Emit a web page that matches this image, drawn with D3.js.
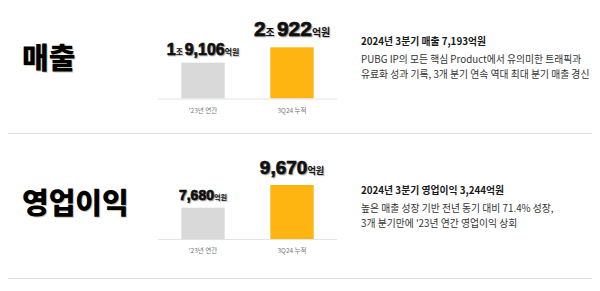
<!DOCTYPE html>
<html>
<head>
<meta charset="utf-8">
<script src="https://cdn.jsdelivr.net/npm/d3@7"></script>
<style>
  body { margin: 0; background: #fff; }
  svg { display: block; }
  .kr { font-family: 'Noto Sans CJK KR', 'Noto Sans', sans-serif; }
  .num { font-family: 'Liberation Sans', Arial, sans-serif; font-weight: 700; }
  .shadow { text-shadow: 1px 1px 1px rgba(0, 0, 0, 0.3); }
</style>
</head>
<body>
<div id="chart"></div>
<script>
// values in 억원
const categories = ["'23년 연간", '3Q24 누적']
const revenue = [19106, 20922]
const opProfit = [7680, 9670]
const titles = ['매출', '영업이익']
const headlines = ['2024년 3분기 매출 7,193억원', '2024년 3분기 영업이익 3,244억원']
const notes = [
  ['PUBG IP의 모든 핵심 Product에서 유의미한 트래픽과', '유료화 성과 기록, 3개 분기 연속 역대 최대 분기 매출 경신'],
  ['높은 매출 성장 기반 전년 동기 대비 71.4% 성장,', "3개 분기만에 '23년 연간 영업이익 상회"]
]

const width = 600
const height = 291
const colors = ['#d9d9d9', '#ffb511']

// layout for each block (top = revenue, bottom = operating profit)
const panels = [
  { values: revenue, title: titles[0], head: headlines[0], lines: notes[0], base: 98.5, top: 47.3, floor: 14880, titleY: 69, sepY: 133, textY: 45, labelSize: [16, 21] },
  { values: opProfit, title: titles[1], head: headlines[1], lines: notes[1], base: 239, top: 185, floor: 4940, titleY: 214, sepY: 278, textY: 194, labelSize: [14, 19] }
]

const svg = d3.select('#chart').append('svg')
  .attr('width', width)
  .attr('height', height)

const x = d3.scaleBand()
  .domain(categories)
  .range([158, 337])
  .paddingInner(0.513)
  .paddingOuter(0.262)

const fmt = d3.format(',')

function labelParts (v) {
  // split into 조 / 억원 pieces
  const parts = []
  if (v >= 10000) {
    parts.push({ t: String(Math.floor(v / 10000)), big: true })
    parts.push({ t: '조 ', big: false })
    parts.push({ t: fmt(v % 10000), big: true })
  } else {
    parts.push({ t: fmt(v), big: true })
  }
  parts.push({ t: '억원', big: false })
  return parts
}

panels.forEach(p => {
  const y = d3.scaleLinear()
    .domain([p.floor, d3.max(p.values)])
    .range([p.base, p.top])

  const g = svg.append('g')

  g.append('text')
    .attr('class', 'kr')
    .attr('x', 22)
    .attr('y', p.titleY)
    .style('font-size', '29px')
    .style('font-weight', 900)
    .style('fill', '#000')
    .style('text-shadow', '1px 1px 0 rgba(120, 90, 0, 0.35)')
    .text(p.title)

  g.selectAll('rect.bar')
    .data(p.values)
    .join('rect')
    .attr('class', 'bar')
    .attr('x', (d, i) => x(categories[i]))
    .attr('width', x.bandwidth())
    .attr('y', d => y(d))
    .attr('height', d => p.base - y(d))
    .style('fill', (d, i) => colors[i])

  g.append('line')
    .attr('x1', 158)
    .attr('x2', 337)
    .attr('y1', p.base + 0.5)
    .attr('y2', p.base + 0.5)
    .style('stroke', '#e4e4e4')
    .style('stroke-width', 1)

  g.selectAll('text.cat')
    .data(categories)
    .join('text')
    .attr('class', 'cat kr')
    .attr('x', d => x(d) + x.bandwidth() / 2)
    .attr('y', p.base + 14)
    .attr('text-anchor', 'middle')
    .style('font-size', '6.5px')
    .style('fill', '#777')
    .text(d => d)

  g.selectAll('text.val')
    .data(p.values)
    .join('text')
    .attr('class', 'val shadow')
    .attr('x', (d, i) => x(categories[i]) + x.bandwidth() / 2)
    .attr('y', (d, i) => y(d) - (i === 1 ? 11 : 8))
    .attr('text-anchor', 'middle')
    .style('fill', '#111')
    .each(function (d, i) {
      const size = p.labelSize[i]
      d3.select(this).selectAll('tspan')
        .data(labelParts(d))
        .join('tspan')
        .attr('class', q => q.big ? 'num' : 'kr')
        .style('font-size', q => q.big ? size + 'px' : (size * 0.4 + 1.5) + 'px')
        .style('font-weight', 700)
        .style('stroke', q => q.big ? '#111' : 'none')
        .style('stroke-width', 0.7)
        .text(q => q.t)
    })

  g.append('text')
    .attr('class', 'kr')
    .attr('x', 361)
    .attr('y', p.textY)
    .style('font-size', '9.8px')
    .style('font-weight', 700)
    .style('fill', '#1a1a1a')
    .text(p.head)

  g.selectAll('text.note')
    .data(p.lines)
    .join('text')
    .attr('class', 'note kr')
    .attr('x', 361)
    .attr('y', (d, i) => p.textY + 18 + i * 15)
    .style('font-size', '9.8px')
    .style('fill', '#333')
    .text(d => d)

  g.append('line')
    .attr('x1', 8)
    .attr('x2', 592)
    .attr('y1', p.sepY + 0.5)
    .attr('y2', p.sepY + 0.5)
    .style('stroke', '#dedede')
    .style('stroke-width', 1.2)
})
</script>
</body>
</html>
